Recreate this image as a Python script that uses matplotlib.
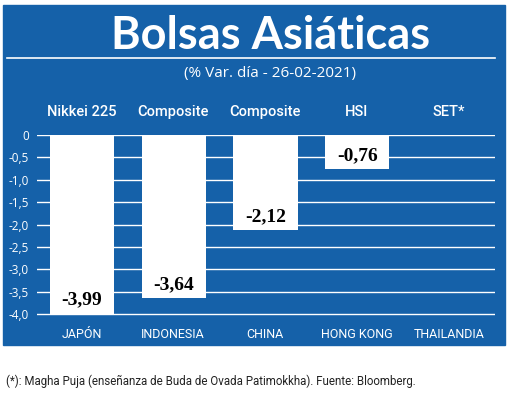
import matplotlib
matplotlib.use("Agg")
import matplotlib.pyplot as plt
from matplotlib.patches import Rectangle
from matplotlib.lines import Line2D

indices = ["Nikkei 225", "Composite", "Composite", "HSI", "SET*"]
countries = ["JAPÓN", "INDONESIA", "CHINA", "HONG KONG", "THAILANDIA"]
values = [-3.99, -3.64, -2.12, -0.76, 0.0]
value_labels = ["-3,99", "-3,64", "-2,12", "-0,76", ""]
yticks = [0, -0.5, -1.0, -1.5, -2.0, -2.5, -3.0, -3.5, -4.0]
ytick_labels = ["0", "-0,5", "-1,0", "-1,5", "-2,0", "-2,5", "-3,0", "-3,5", "-4,0"]

BLUE = "#1561a9"
W, H = 520, 408
narrow = ["Roboto", "DejaVu Sans"]

fig = plt.figure(figsize=(W / 100, H / 100), dpi=100)
fig.patch.set_facecolor("white")
fig.add_artist(Rectangle((3 / W, 1 - 345 / H), 502 / W, 340 / H,
                         transform=fig.transFigure, color=BLUE, zorder=0))
fig.add_artist(Line2D([7 / W, 495 / W], [1 - 58 / H] * 2,
                      transform=fig.transFigure, color="white", lw=1.2))
fig.text(271 / W, 1 - 36 / H, "Bolsas Asiáticas", ha="center", va="center",
         color="white", fontsize=32.5, fontweight="bold", family="Lato")
fig.text(270 / W, 1 - 73 / H, "(% Var. día - 26-02-2021)", ha="center", va="center",
         color="white", fontsize=11, family="Open Sans")

ax = fig.add_axes([37 / W, 1 - 323 / H, 458 / W, 188 / H])
ax.set_facecolor("none")
ax.set_xlim(-0.49, 4.5)
ax.set_ylim(-4.2, 0)
for t in yticks:
    ax.axhline(t, color="white", lw=1, zorder=1)
x = range(len(values))
ax.bar(x, values, width=0.7, color="white", zorder=2)
for i, v in enumerate(values):
    if value_labels[i]:
        ax.text(i, v + 0.3, value_labels[i], ha="center", va="center",
                fontsize=14, fontweight="bold", family="Liberation Serif", color="black")
for s in ax.spines.values():
    s.set_visible(False)
ax.set_yticks(yticks)
ax.set_yticklabels(ytick_labels, color="white", fontsize=8.5, family="Open Sans")
ax.tick_params(length=0, pad=6)
ax.set_xticks([])

centers_px = [82, 173, 265, 357, 449]
for cx, name, country in zip(centers_px, indices, countries):
    fig.text(cx / W, 1 - 112 / H, name, ha="center", va="center", color="white",
             fontsize=10.5, fontweight="medium", family=narrow)
    fig.text(cx / W, 1 - 335 / H, country, ha="center", va="center", color="white",
             fontsize=9, family=narrow)

fig.text(6 / W, 1 - 381 / H,
         "(*): Magha Puja (enseñanza de Buda de Ovada Patimokkha). Fuente: Bloomberg.",
         ha="left", va="center", color="#222222", fontsize=8.3, family=narrow)

fig.savefig("out.png", dpi=100)
